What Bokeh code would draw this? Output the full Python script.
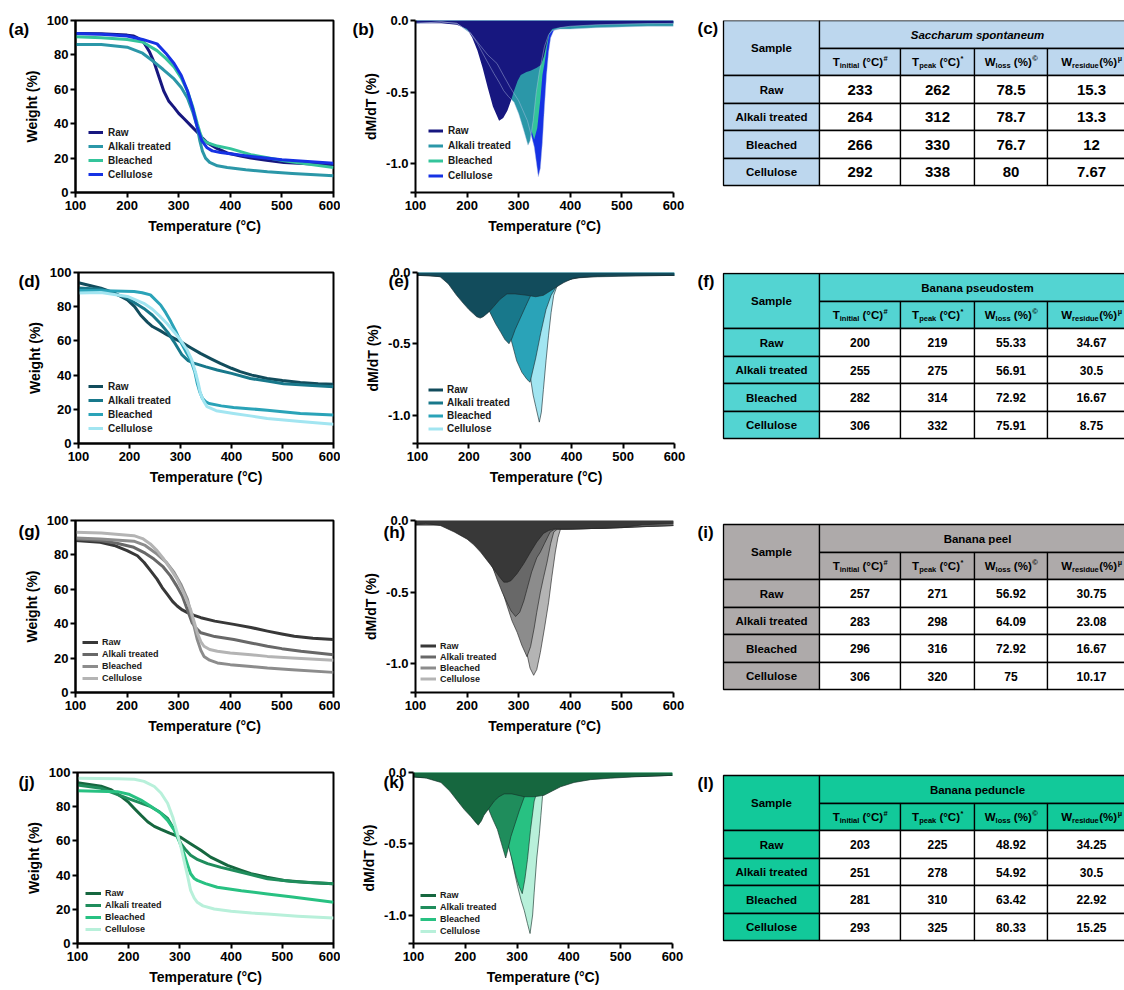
from bokeh.plotting import figure
from bokeh.layouts import column, row
from bokeh.models import Range1d, FixedTicker, Title, Legend, LegendItem, CustomJSTickFormatter
from bokeh.embed import file_html
from bokeh.resources import INLINE
from bokeh.core.properties import value

FONT = "Liberation Sans"
SAMPLES = ["Raw", "Alkali treated", "Bleached", "Cellulose"]
TEMP_TICKS = [100, 200, 300, 400, 500, 600]
WEIGHT_TICKS = [0, 20, 40, 60, 80, 100]
DTG_TICKS = [0.0, -0.5, -1.0, -1.2]
NAN = float("nan")

# ---------------- colours ----------------
COL_A = ["#17177f", "#2b97a8", "#34c49b", "#1632e4"]
COL_D = ["#124c5c", "#18788b", "#2aa3b8", "#a2e5f1"]
COL_G = ["#383838", "#686868", "#8c8c8c", "#b4b4b4"]
COL_J = ["#16673f", "#1f8d5c", "#28c182", "#b8f0da"]

# ---------------- (a) TGA Saccharum spontaneum ----------------
a_raw_t = [100, 150, 200, 213, 223, 233, 243, 252, 262, 271, 281, 291, 300, 310, 323, 336, 345, 355, 375, 394, 420, 440, 470, 504, 550, 600]
a_raw_w = [92.5, 92.3, 91.5, 91, 89.5, 87, 82, 76, 67, 59, 53, 49.5, 46, 43, 39, 35, 32, 29, 25.5, 23, 21.2, 20, 18.8, 17.5, 16.7, 16]
a_alk_t = [100, 150, 200, 230, 252, 270, 291, 305, 317, 327, 336, 341, 346, 352, 360, 375, 394, 430, 472, 520, 600]
a_alk_w = [86, 86, 84.5, 81, 76, 71.5, 66, 61, 55, 47, 38, 30, 24, 20, 17.5, 15.5, 14.5, 13.2, 12, 11, 9.7]
a_ble_t = [100, 150, 200, 230, 258, 275, 291, 305, 317, 327, 336, 341, 346, 355, 375, 400, 440, 504, 550, 600]
a_ble_w = [90.5, 90, 89, 87.5, 82.5, 78, 73, 66.5, 59, 50, 40, 35, 31, 29, 27, 25.5, 22, 18.5, 16.5, 14.5]
a_cel_t = [100, 150, 200, 230, 258, 275, 291, 305, 317, 327, 336, 345, 355, 365, 381, 400, 440, 500, 600]
a_cel_w = [92.5, 92, 91, 89, 86.4, 81, 75, 68, 59, 49, 38, 30, 26, 24.2, 23.3, 22.5, 21, 19, 17]

# ---------------- (b) DTG Saccharum spontaneum ----------------
b_raw_t = [100, 150, 180, 200, 210, 220, 230, 240, 250, 262, 270, 278, 285, 291, 298, 304, 315, 323, 335, 343, 349, 355, 359, 365, 375, 400, 450, 500, 550, 600]
b_raw_d = [-0.02, -0.02, -0.03, -0.06, -0.12, -0.21, -0.33, -0.47, -0.6, -0.7, -0.68, -0.63, -0.56, -0.49, -0.42, -0.38, -0.36, -0.35, -0.33, -0.31, -0.25, -0.15, -0.09, -0.06, -0.05, -0.04, -0.03, -0.025, -0.02, -0.02]
b_alk_t = [100, 150, 180, 207, 220, 235, 252, 262, 271, 280, 291, 300, 310, 318, 322, 328, 334, 340, 350, 358, 365, 380, 400, 450, 500, 550, 600]
b_alk_d = [-0.02, -0.01, -0.02, -0.09, -0.16, -0.26, -0.37, -0.43, -0.49, -0.53, -0.57, -0.65, -0.77, -0.87, -0.84, -0.7, -0.5, -0.36, -0.18, -0.1, -0.07, -0.06, -0.06, -0.05, -0.045, -0.04, -0.04]
b_ble_t = [100, 150, 180, 210, 240, 270, 300, 315, 325, 330, 336, 342, 346, 350, 355, 360, 370, 400, 450, 500, 600]
b_ble_d = [-0.02, -0.01, -0.02, -0.07, -0.18, -0.3, -0.45, -0.62, -0.77, -0.83, -0.75, -0.55, -0.38, -0.3, -0.18, -0.08, -0.05, -0.04, -0.03, -0.025, -0.02]
b_cel_t = [100, 150, 180, 205, 220, 240, 258, 270, 284, 300, 317, 330, 338, 342, 346, 350, 354, 358, 362, 368, 380, 400, 450, 500, 600]
b_cel_d = [-0.02, -0.01, -0.02, -0.08, -0.15, -0.24, -0.3, -0.38, -0.47, -0.56, -0.7, -0.88, -1.09, -1.03, -0.85, -0.6, -0.38, -0.22, -0.12, -0.07, -0.05, -0.04, -0.03, -0.025, -0.02]

# ---------------- (d) TGA Banana pseudostem ----------------
d_raw_t = [100, 144, 170, 196, 210, 222, 235, 245, 260, 274, 300, 320, 339, 360, 378, 400, 417, 440, 470, 500, 535, 570, 600]
d_raw_w = [94, 90.8, 88, 84, 80, 75, 71, 68.4, 66, 63.5, 59.6, 56, 52.7, 49.5, 46.9, 44, 42, 40, 38, 36.8, 35.7, 35, 34.6]
d_alk_t = [100, 144, 196, 228, 245, 261, 275, 287, 303, 315, 326, 350, 372, 400, 437, 470, 502, 550, 600]
d_alk_w = [91, 90.2, 85, 79, 75, 70, 65, 59.6, 51.8, 48.5, 47, 44.8, 43, 41, 38, 36.5, 35, 34, 33.2]
d_ble_t = [100, 150, 209, 225, 241, 261, 271, 281, 291, 300, 310, 320, 328, 333, 338, 343, 350, 356, 380, 404, 440, 470, 535, 600]
d_ble_w = [89.5, 89.3, 88.9, 88.2, 86.9, 81, 76.5, 71.3, 65.5, 59.6, 54, 48.8, 42, 35, 30, 26.4, 24.3, 23.4, 22, 21, 20.2, 19.5, 17.6, 16.6]
d_cel_t = [100, 144, 196, 228, 245, 261, 274, 287, 300, 313, 322, 330, 335, 339, 345, 352, 370, 404, 440, 470, 535, 600]
d_cel_w = [88, 88.3, 86, 82, 78.5, 74, 70, 65.4, 60.5, 54.7, 49, 41, 35, 29.3, 25, 21.5, 19.2, 17.6, 16, 14.6, 12.8, 11.3]

# ---------------- (e) DTG Banana pseudostem ----------------
e_raw_t = [100, 120, 144, 160, 176, 190, 200, 209, 215, 222, 228, 238, 248, 260, 274, 290, 313, 330, 345, 358, 371, 385, 403, 430, 468, 520, 600]
e_raw_d = [-0.02, -0.02, -0.03, -0.08, -0.16, -0.22, -0.26, -0.29, -0.31, -0.32, -0.31, -0.28, -0.24, -0.19, -0.15, -0.15, -0.16, -0.17, -0.16, -0.13, -0.1, -0.07, -0.04, -0.03, -0.02, -0.02, -0.02]
e_alk_t = [100, 150, 200, 225, 241, 252, 262, 270, 278, 284, 290, 300, 310, 319, 330, 345, 365, 400, 450, 600]
e_alk_d = [-0.02, -0.03, -0.1, -0.2, -0.28, -0.36, -0.42, -0.47, -0.5, -0.46, -0.4, -0.32, -0.24, -0.17, -0.12, -0.09, -0.06, -0.04, -0.03, -0.02]
e_ble_t = [100, 150, 200, 240, 265, 282, 293, 303, 313, 319, 330, 340, 350, 360, 370, 385, 420, 500, 600]
e_ble_d = [-0.02, -0.02, -0.05, -0.14, -0.28, -0.47, -0.62, -0.7, -0.75, -0.77, -0.6, -0.42, -0.26, -0.16, -0.1, -0.06, -0.03, -0.02, -0.02]
e_cel_t = [100, 150, 200, 250, 290, 310, 319, 325, 330, 337, 341, 345, 350, 355, 360, 365, 372, 390, 420, 500, 600]
e_cel_d = [-0.02, -0.02, -0.04, -0.1, -0.3, -0.55, -0.72, -0.86, -0.94, -1.05, -0.98, -0.82, -0.62, -0.44, -0.28, -0.16, -0.09, -0.05, -0.03, -0.02, -0.02]

# ---------------- (g) TGA Banana peel ----------------
g_raw_t = [100, 148, 175, 200, 220, 233, 245, 258, 268, 278, 288, 297, 307, 317, 330, 343, 370, 407, 440, 472, 500, 524, 560, 600]
g_raw_w = [88.3, 87.3, 85.5, 82.5, 79.5, 75.6, 71, 65.9, 61, 57, 53, 50.3, 48, 46.4, 44.8, 43.5, 41.5, 39.6, 37.8, 35.7, 34, 32.7, 31.5, 30.8]
g_alk_t = [100, 148, 180, 213, 235, 252, 270, 284, 296, 307, 317, 326, 335, 343, 370, 407, 440, 472, 500, 537, 600]
g_alk_w = [89.3, 88.3, 86.8, 84.4, 81, 77.6, 73, 67.8, 62, 56.1, 48, 40.5, 37, 34.7, 32.5, 30.8, 28.8, 26.9, 25.5, 24, 22]
g_ble_t = [100, 148, 213, 235, 258, 275, 291, 304, 317, 327, 336, 343, 349, 360, 375, 400, 440, 472, 520, 600]
g_ble_w = [89.8, 89.3, 88, 85.5, 80.5, 76, 69.8, 63, 54.2, 42, 30.8, 24.5, 21, 18.8, 17.2, 16.2, 15.1, 14.2, 13.2, 11.7]
g_cel_t = [100, 150, 213, 230, 245, 258, 271, 284, 297, 310, 323, 330, 336, 343, 349, 360, 375, 400, 440, 472, 520, 600]
g_cel_w = [93.2, 92.8, 91.2, 89.5, 86.4, 82.5, 77.6, 72, 65.9, 57.5, 48.3, 41, 34.7, 29.5, 26.9, 25, 24, 23, 22, 21, 20, 18.7]

# ---------------- (h) DTG Banana peel ----------------
h_raw_t = [100, 120, 148, 175, 200, 213, 226, 239, 252, 262, 271, 278, 285, 297, 310, 323, 335, 348, 358, 368, 380, 400, 450, 500, 540, 600]
h_raw_d = [-0.03, -0.02, -0.035, -0.08, -0.13, -0.17, -0.22, -0.28, -0.34, -0.39, -0.43, -0.43, -0.42, -0.37, -0.3, -0.22, -0.15, -0.09, -0.07, -0.06, -0.06, -0.06, -0.055, -0.05, -0.03, -0.02]
h_alk_t = [100, 150, 200, 230, 250, 258, 268, 277, 285, 294, 302, 310, 316, 325, 335, 342, 350, 361, 370, 380, 400, 450, 500, 550, 600]
h_alk_d = [-0.03, -0.03, -0.08, -0.2, -0.33, -0.41, -0.5, -0.57, -0.63, -0.67, -0.64, -0.56, -0.48, -0.36, -0.26, -0.22, -0.16, -0.08, -0.06, -0.06, -0.06, -0.055, -0.05, -0.04, -0.035]
h_ble_t = [100, 150, 200, 240, 265, 277, 287, 297, 306, 316, 323, 330, 335, 342, 348, 355, 362, 368, 375, 390, 450, 600]
h_ble_d = [-0.03, -0.03, -0.08, -0.25, -0.45, -0.59, -0.7, -0.78, -0.87, -0.95, -0.88, -0.75, -0.64, -0.5, -0.4, -0.29, -0.16, -0.08, -0.06, -0.06, -0.055, -0.035]
h_cel_t = [100, 150, 200, 250, 280, 300, 316, 322, 329, 335, 342, 350, 358, 364, 371, 376, 381, 390, 450, 600]
h_cel_d = [-0.03, -0.03, -0.07, -0.25, -0.5, -0.72, -0.93, -1.03, -1.08, -1.04, -0.92, -0.75, -0.57, -0.4, -0.22, -0.12, -0.06, -0.06, -0.055, -0.035]

# ---------------- (j) TGA Banana peduncle ----------------
j_raw_t = [100, 146, 165, 185, 200, 211, 224, 237, 250, 263, 280, 302, 320, 341, 360, 393, 420, 439, 470, 504, 550, 600]
j_raw_w = [94, 92, 90, 86, 82.5, 79, 75, 71.2, 68.5, 66.7, 64.5, 62, 58.5, 54.5, 50.5, 45.7, 42.8, 40.8, 38.7, 36.9, 35.7, 34.9]
j_alk_t = [100, 146, 198, 220, 243, 260, 276, 289, 302, 312, 321, 335, 354, 380, 406, 440, 471, 520, 600]
j_alk_w = [92.7, 90.8, 84.9, 82.5, 80, 77, 73.1, 66.5, 58.4, 54.5, 51.6, 49, 46.7, 44.5, 42.7, 40.2, 37.8, 36.2, 34.9]
j_ble_t = [100, 178, 200, 224, 243, 263, 276, 289, 299, 308, 315, 321, 328, 334, 350, 373, 420, 471, 520, 600]
j_ble_w = [89.4, 88.8, 87.3, 83.9, 80.3, 76.1, 72, 66.3, 59.5, 52.5, 46, 40.8, 38, 36.9, 35, 32.9, 30.8, 29, 27.2, 24.1]
j_cel_t = [100, 180, 211, 230, 250, 263, 276, 286, 295, 302, 308, 315, 321, 328, 334, 345, 367, 400, 440, 471, 530, 600]
j_cel_w = [96.7, 96.4, 96, 94.8, 91.8, 88, 82, 74, 64.3, 56.5, 48.6, 39.5, 31, 26.5, 24.1, 22, 20.2, 18.8, 17.8, 17.3, 16, 14.9]

# ---------------- (k) DTG Banana peduncle ----------------
k_raw_t = [100, 125, 153, 170, 185, 198, 211, 220, 225, 231, 236, 246, 256, 265, 275, 290, 314, 333, 352, 368, 384, 410, 442, 480, 530, 600]
k_raw_d = [-0.03, -0.04, -0.07, -0.13, -0.2, -0.26, -0.31, -0.35, -0.37, -0.34, -0.3, -0.25, -0.2, -0.17, -0.15, -0.15, -0.17, -0.17, -0.16, -0.13, -0.1, -0.07, -0.05, -0.04, -0.03, -0.02]
k_alk_t = [100, 150, 200, 230, 243, 252, 262, 270, 278, 283, 288, 296, 304, 314, 325, 340, 370, 420, 600]
k_alk_d = [-0.03, -0.04, -0.1, -0.18, -0.24, -0.32, -0.4, -0.5, -0.6, -0.53, -0.45, -0.36, -0.27, -0.17, -0.12, -0.08, -0.05, -0.04, -0.02]
k_ble_t = [100, 150, 200, 250, 270, 280, 285, 292, 298, 304, 310, 315, 320, 326, 333, 340, 350, 380, 450, 600]
k_ble_d = [-0.03, -0.04, -0.08, -0.2, -0.35, -0.47, -0.54, -0.64, -0.73, -0.8, -0.85, -0.75, -0.61, -0.4, -0.2, -0.12, -0.07, -0.04, -0.03, -0.02]
k_cel_t = [100, 150, 200, 250, 275, 288, 295, 301, 308, 314, 320, 325, 330, 333, 338, 343, 346, 349, 355, 370, 450, 600]
k_cel_d = [-0.03, -0.04, -0.08, -0.2, -0.4, -0.57, -0.7, -0.8, -0.9, -0.97, -1.06, -1.13, -1.0, -0.84, -0.6, -0.43, -0.3, -0.17, -0.1, -0.05, -0.03, -0.02]

# ---------------- tables ----------------
c_tinit = [233, 264, 266, 292]
c_tpeak = [262, 312, 330, 338]
c_wloss = [78.5, 78.7, 76.7, 80]
c_wres = [15.3, 13.3, 12, 7.67]

f_tinit = [200, 255, 282, 306]
f_tpeak = [219, 275, 314, 332]
f_wloss = [55.33, 56.91, 72.92, 75.91]
f_wres = [34.67, 30.5, 16.67, 8.75]

i_tinit = [257, 283, 296, 306]
i_tpeak = [271, 298, 316, 320]
i_wloss = [56.92, 64.09, 72.92, 75]
i_wres = [30.75, 23.08, 16.67, 10.17]

l_tinit = [203, 251, 281, 293]
l_tpeak = [225, 278, 310, 325]
l_wloss = [48.92, 54.92, 63.42, 80.33]
l_wres = [34.25, 30.5, 22.92, 15.25]

# (main letter, subscript, gap?, rest, superscript)
HEAD_PARTS = [("T", "initial", True, "(°C)", "#"), ("T", "peak", True, "(°C)", "*"),
              ("W", "loss", True, "(%)", "©"), ("W", "residue", False, "(%)", "µ")]

AW = {' ': 278, '(': 333, ')': 333, '°': 400, 'C': 722, '#': 556, '*': 389, '©': 737, 'µ': 611,
      '%': 889, 'T': 611, 'W': 944, 'i': 278, 'n': 611, 't': 333, 'a': 556, 'l': 278, 'p': 611,
      'e': 556, 'k': 556, 'o': 611, 's': 556, 'r': 389, 'd': 611, 'u': 611}


def tw(s, size):
    return sum(AW.get(ch, 556) for ch in s) / 1000.0 * size


def style_axes(p):
    for ax in list(p.xaxis) + list(p.yaxis):
        ax.axis_line_width = 2
        ax.axis_line_color = "black"
        ax.major_tick_line_width = 2
        ax.major_tick_line_color = "black"
        ax.major_tick_out = 5
        ax.major_tick_in = 0
        ax.minor_tick_line_color = None
        ax.major_label_text_font = FONT
        ax.major_label_text_font_size = "13px"
        ax.major_label_text_font_style = "bold"
        ax.major_label_text_color = "black"
        ax.axis_label_text_font = FONT
        ax.axis_label_text_font_size = "14px"
        ax.axis_label_text_font_style = "bold"
        ax.axis_label_text_color = "black"
    p.xaxis[0].major_label_standoff = 3
    p.xaxis[0].axis_label_standoff = 5
    p.yaxis[0].major_label_standoff = 2
    p.yaxis[0].axis_label_standoff = 4
    p.grid.visible = False


def make_legend(renderers, cfg):
    lx, ly, fs, pitch, gw, stand = cfg
    leg = Legend(items=[LegendItem(label=s, renderers=[r]) for s, r in zip(SAMPLES, renderers)],
                 location=(lx, ly), orientation="vertical",
                 label_text_font=FONT, label_text_font_size=f"{fs}px", label_text_font_style="bold",
                 label_text_color="#1a1a1a", glyph_width=gw, glyph_height=pitch, label_height=pitch,
                 label_standoff=stand, spacing=0, padding=0, margin=0,
                 border_line_color=None, background_fill_alpha=0)
    return leg


def panel_label(p, text, cx, cy, geom):
    # panel letter placed as a left-aligned title hanging next to the y axis
    H, left, fw, top, fh = geom
    p.add_layout(Title(text=text, align="left", offset=cx - left, vertical_align="bottom",
                       standoff=-((cy - top) + 30), text_font=FONT, text_font_size="17px",
                       text_font_style="bold", text_color="black"), "above")


def base_fig(width, H, left, fw, top, fh, yr):
    return figure(width=width, height=H, x_range=Range1d(100, 600), y_range=Range1d(*yr),
                  output_backend="svg", toolbar_location=None, title=None,
                  min_border_left=left, min_border_right=width - left - fw,
                  min_border_top=top, min_border_bottom=H - top - fh)


def tga_panel(tag, ts, ws, colors, geom, leg_cfg, lab_xy):
    H, left, fw, top, fh = geom
    p = base_fig(340, H, left, fw, top, fh, (0, 100))
    p.xaxis.ticker = FixedTicker(ticks=TEMP_TICKS)
    p.yaxis.ticker = FixedTicker(ticks=WEIGHT_TICKS)
    p.xaxis.axis_label = "Temperature (°C)"
    p.yaxis.axis_label = "Weight (%)"
    style_axes(p)
    p.outline_line_color = "black"
    p.outline_line_width = 2
    p.outline_line_alpha = 1
    rs = []
    for t, w, c in zip(ts, ws, colors):
        rs.append(p.line(t, w, line_width=3, color=c, line_join="round"))
    p.add_layout(make_legend(rs, leg_cfg))
    panel_label(p, tag, lab_xy[0], lab_xy[1], geom)
    return p


def dtg_panel(tag, ts, ds, colors, geom, leg_cfg, lab_xy, edge_color, edges_on_top=False):
    H, left, fw, top, fh = geom
    p = base_fig(350, H, left, fw, top, fh, (-1.2, 0))
    p.xaxis.ticker = FixedTicker(ticks=TEMP_TICKS)
    p.yaxis.ticker = FixedTicker(ticks=DTG_TICKS)
    p.yaxis.formatter = CustomJSTickFormatter(code="return tick < -1.1 ? '' : (tick == 0 ? '0.0' : tick.toFixed(1));")
    p.xaxis.axis_label = "Temperature (°C)"
    p.yaxis.axis_label = "dM/dT (%)"
    style_axes(p)
    p.outline_line_color = None
    for i in [3, 2, 1, 0]:
        p.varea(x=ts[i], y1=0, y2=ds[i], fill_color=colors[i], fill_alpha=1)
        if not edges_on_top:
            p.line(ts[i], ds[i], line_width=0.8, color=edge_color, line_alpha=0.8)
    if edges_on_top:
        for i in [1, 3]:
            p.line(ts[i], ds[i], line_width=0.8, color=edge_color, line_alpha=0.55)
    proxies = [p.line(x=[NAN], y=[NAN], line_width=3, color=c) for c in colors]
    p.add_layout(make_legend(proxies, leg_cfg))
    panel_label(p, tag, lab_xy[0], lab_xy[1], geom)
    return p


def table_panel(tag, group, italic, head_color, cols, H, ftop, fh, top, num_size):
    # y data == pixels from the top of the figure (frame aligned with its row neighbours)
    p = figure(width=434, height=H, x_range=Range1d(0, 434), y_range=Range1d(ftop + fh, ftop),
               output_backend="svg", toolbar_location=None, title=None,
               x_axis_location=None, y_axis_location=None,
               min_border_left=0, min_border_right=0, min_border_top=ftop,
               min_border_bottom=H - ftop - fh)
    p.outline_line_color = None
    p.grid.visible = False
    xe = [33, 129, 210, 284, 357, 445]
    ye = [top + v for v in (0, 28, 55, 83, 110, 138, 165)]
    L, R, T, B, C = [], [], [], [], []

    def add(l, r, t, b, c):
        L.append(l); R.append(r); T.append(t); B.append(b); C.append(c)
    add(xe[0], xe[1], ye[0], ye[2], head_color)
    add(xe[1], xe[5], ye[0], ye[1], head_color)
    for k in range(1, 5):
        add(xe[k], xe[k + 1], ye[1], ye[2], head_color)
    for r in range(4):
        add(xe[0], xe[1], ye[r + 2], ye[r + 3], head_color)
        for k in range(1, 5):
            add(xe[k], xe[k + 1], ye[r + 2], ye[r + 3], "white")
    p.quad(left=L, right=R, top=T, bottom=B, fill_color=C, line_color="black", line_width=1.3)

    common = dict(text_font=value(FONT), text_baseline="middle", text_color="black")
    p.text(x=[(xe[0] + xe[1]) / 2], y=[(ye[0] + ye[2]) / 2], text=["Sample"],
           text_font_size=value("11.5px"), text_font_style="bold", text_align="center", **common)
    p.text(x=[(xe[1] + xe[5]) / 2], y=[(ye[0] + ye[1]) / 2], text=[group],
           text_font_size=value("11.5px"), text_font_style="bold italic" if italic else "bold",
           text_align="center", **common)
    bx, by, bt, sx, sy, st = [], [], [], [], [], []
    cy = (ye[1] + ye[2]) / 2
    for k, (main, sub, gap, rest, sup) in enumerate(HEAD_PARTS):
        cx = (xe[k + 1] + xe[k + 2]) / 2
        g = tw(" ", 11.5) if gap else 0.5
        w1, w2, w3, w4 = tw(main, 11.5), tw(sub, 7.5), tw(rest, 11.5), tw(sup, 7.5)
        x0 = cx - (w1 + w2 + g + w3 + w4) / 2
        bx += [x0, x0 + w1 + w2 + g]; by += [cy, cy]; bt += [main, rest]
        sx += [x0 + w1, x0 + w1 + w2 + g + w3 + 0.5]; sy += [cy + 3, cy - 4]; st += [sub, sup]
    p.text(x=bx, y=by, text=bt, text_font_size=value("11.5px"), text_font_style="bold",
           text_align="left", **common)
    p.text(x=sx, y=sy, text=st, text_font_size=value("7.5px"), text_font_style="bold",
           text_align="left", **common)
    rx, ry, rt = [], [], []
    nx, ny, nt = [], [], []
    for r in range(4):
        yc = (ye[r + 2] + ye[r + 3]) / 2
        rx.append((xe[0] + xe[1]) / 2); ry.append(yc); rt.append(SAMPLES[r])
        for k in range(4):
            nx.append((xe[k + 1] + xe[k + 2]) / 2); ny.append(yc); nt.append(f"{cols[k][r]:g}")
    p.text(x=rx, y=ry, text=rt, text_font_size=value("11.5px"), text_font_style="bold",
           text_align="center", **common)
    p.text(x=nx, y=ny, text=nt, text_font_size=value(f"{num_size}px"), text_font_style="bold",
           text_align="center", **common)
    p.text(x=[7], y=[top + 8], text=[tag], text_font_size=value("17px"), text_font_style="bold",
           text_align="left", **common)
    return p


# ---------------- build panels ----------------
G1 = (250, 20, 172)
G2 = (250, 22, 171)
G3 = (250, 20, 172)
G4 = (240, 22, 171)

pa = tga_panel("(a)", [a_raw_t, a_alk_t, a_ble_t, a_cel_t], [a_raw_w, a_alk_w, a_ble_w, a_cel_w], COL_A,
               (G1[0], 75, 258, G1[1], G1[2]), (13, 11, 10, 14, 15, 5), (8, 27))
pb = dtg_panel("(b)", [b_raw_t, b_alk_t, b_ble_t, b_cel_t], [b_raw_d, b_alk_d, b_ble_d, b_cel_d], COL_A,
               (G1[0], 75, 258, G1[1], G1[2]), (13, 9, 10, 15, 15, 5), (12, 27), "#b8c6e6", edges_on_top=True)
pc = table_panel("(c)", "Saccharum spontaneum", True, "#bdd7ee",
                 [c_tinit, c_tpeak, c_wloss, c_wres], G1[0], G1[1], G1[2], 20, 15)

pd = tga_panel("(d)", [d_raw_t, d_alk_t, d_ble_t, d_cel_t], [d_raw_w, d_alk_w, d_ble_w, d_cel_w], COL_D,
               (G2[0], 78, 255, G2[1], G2[2]), (10, 8, 10, 14, 15, 5), (18, 28))
pe = dtg_panel("(e)", [e_raw_t, e_alk_t, e_ble_t, e_cel_t], [e_raw_d, e_alk_d, e_ble_d, e_cel_d], COL_D,
               (G2[0], 77, 257, G2[1], G2[2]), (11, 8, 10, 13, 15, 4), (48, 29), "#1d2d33")
pf = table_panel("(f)", "Banana pseudostem", False, "#53d4d2",
                 [f_tinit, f_tpeak, f_wloss, f_wres], G2[0], G2[1], G2[2], 23, 12)

pg = tga_panel("(g)", [g_raw_t, g_alk_t, g_ble_t, g_cel_t], [g_raw_w, g_alk_w, g_ble_w, g_cel_w], COL_G,
               (G3[0], 75, 258, G3[1], G3[2]), (7, 8, 9, 12, 16, 4), (18, 30))
ph = dtg_panel("(h)", [h_raw_t, h_alk_t, h_ble_t, h_cel_t], [h_raw_d, h_alk_d, h_ble_d, h_cel_d], COL_G,
               (G3[0], 75, 258, G3[1], G3[2]), (5, 8, 9, 11, 16, 4), (43, 32), "#222222")
pi = table_panel("(i)", "Banana peel", False, "#aeaaaa",
                 [i_tinit, i_tpeak, i_wloss, i_wres], G3[0], G3[1], G3[2], 24, 12)

pj = tga_panel("(j)", [j_raw_t, j_alk_t, j_ble_t, j_cel_t], [j_raw_w, j_alk_w, j_ble_w, j_cel_w], COL_J,
               (G4[0], 77, 256, G4[1], G4[2]), (8, 8, 9, 12, 16, 4), (18, 30))
pk = dtg_panel("(k)", [k_raw_t, k_alk_t, k_ble_t, k_cel_t], [k_raw_d, k_alk_d, k_ble_d, k_cel_d], COL_J,
               (G4[0], 73, 259, G4[1], G4[2]), (7, 6, 9, 12, 16, 4), (43, 31), "#16332a")
pl = table_panel("(l)", "Banana peduncle", False, "#12c99a",
                 [l_tinit, l_tpeak, l_wloss, l_wres], G4[0], G4[1], G4[2], 25, 12)

layout = column(row(pa, pb, pc), row(pd, pe, pf), row(pg, ph, pi), row(pj, pk, pl))
open("out.html", "w").write(file_html(layout, INLINE))
